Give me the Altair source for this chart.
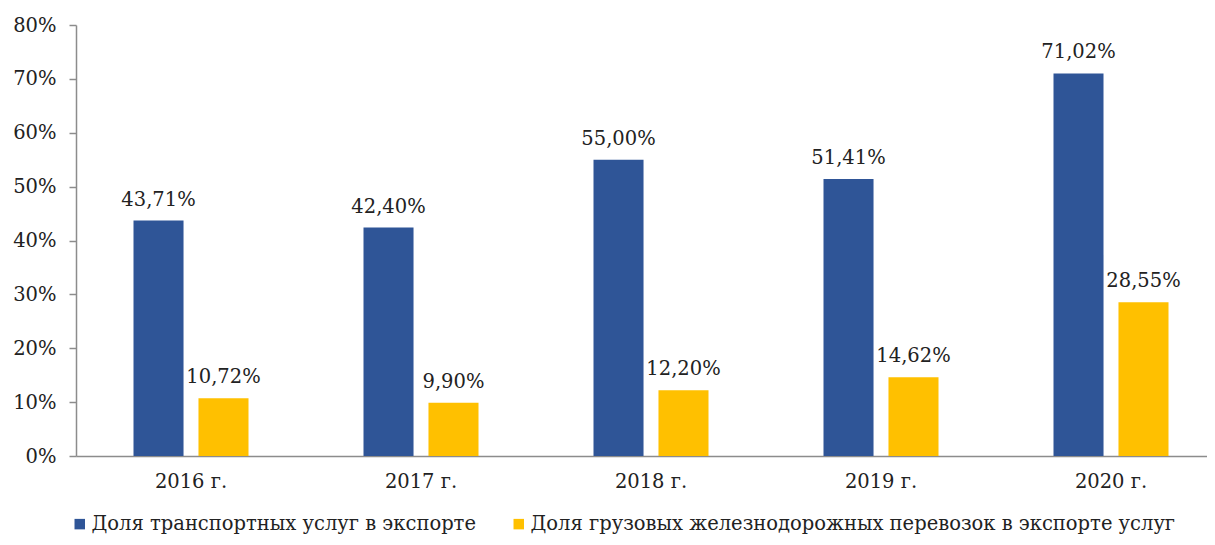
import altair as alt
import pandas as pd

years = ["2016 г.", "2017 г.", "2018 г.", "2019 г.", "2020 г."]
series = ["Доля транспортных услуг в экспорте",
          "Доля грузовых железнодорожных перевозок в экспорте услуг"]
transport_share = [43.71, 42.40, 55.00, 51.41, 71.02]
rail_share = [10.72, 9.90, 12.20, 14.62, 28.55]
colors = ["#2F5597", "#FFC000"]

rows = []
for i, y in enumerate(years):
    rows.append({"year": y, "series": series[0], "value": transport_share[i]})
    rows.append({"year": y, "series": series[1], "value": rail_share[i]})
df = pd.DataFrame(rows)

FONT = "DejaVu Serif"
FS = 19.5
TXT = "#222222"
AX = "#8c8c8c"

base = alt.Chart(df).encode(
    x=alt.X("year:N", sort=years, title=None,
            scale=alt.Scale(range=[0, 1150], paddingInner=0.5, paddingOuter=0.25),
            axis=alt.Axis(labelAngle=0, ticks=False, domainColor=AX, domainWidth=1.5,
                          labelFont=FONT, labelFontSize=FS, labelColor=TXT,
                          labelPadding=16)),
    xOffset=alt.XOffset("series:N", sort=series,
                        scale=alt.Scale(paddingInner=0.23, paddingOuter=0)),
    y=alt.Y("value:Q", title=None,
            scale=alt.Scale(domain=[0, 80], nice=False),
            axis=alt.Axis(values=[0, 10, 20, 30, 40, 50, 60, 70, 80], grid=False,
                          labelExpr="datum.value + '%'", domainColor=AX, domainWidth=1.5,
                          tickColor=AX, tickSize=7, tickWidth=1.5,
                          labelFont=FONT, labelFontSize=FS, labelColor=TXT,
                          labelPadding=13)),
)

bars = base.mark_bar().encode(
    color=alt.Color("series:N", sort=series,
                    scale=alt.Scale(domain=series, range=colors),
                    legend=alt.Legend(title=None, orient="none", direction="horizontal",
                                      legendX=-6, legendY=489,
                                      symbolType="square", symbolSize=110,
                                      symbolStrokeWidth=0,
                                      labelFont=FONT, labelFontSize=19.5, labelColor=TXT,
                                      labelLimit=1000, columnPadding=33,
                                      symbolOffset=0, labelOffset=2))
)

labels = base.mark_text(baseline="alphabetic", dy=-15, font=FONT, fontSize=FS,
                        color=TXT).transform_calculate(
    label="replace(format(datum.value, '.2f'), '.', ',') + '%'"
).encode(text="label:N")

chart = alt.layer(bars, labels).properties(
    width=1131, height=431,
    autosize=alt.AutoSizeParams(type="none"),
    padding={"left": 68, "top": 17, "right": 0, "bottom": 81},
).configure_view(stroke=None)

chart.save("out.html", embed_options={"renderer": "svg", "actions": False})
